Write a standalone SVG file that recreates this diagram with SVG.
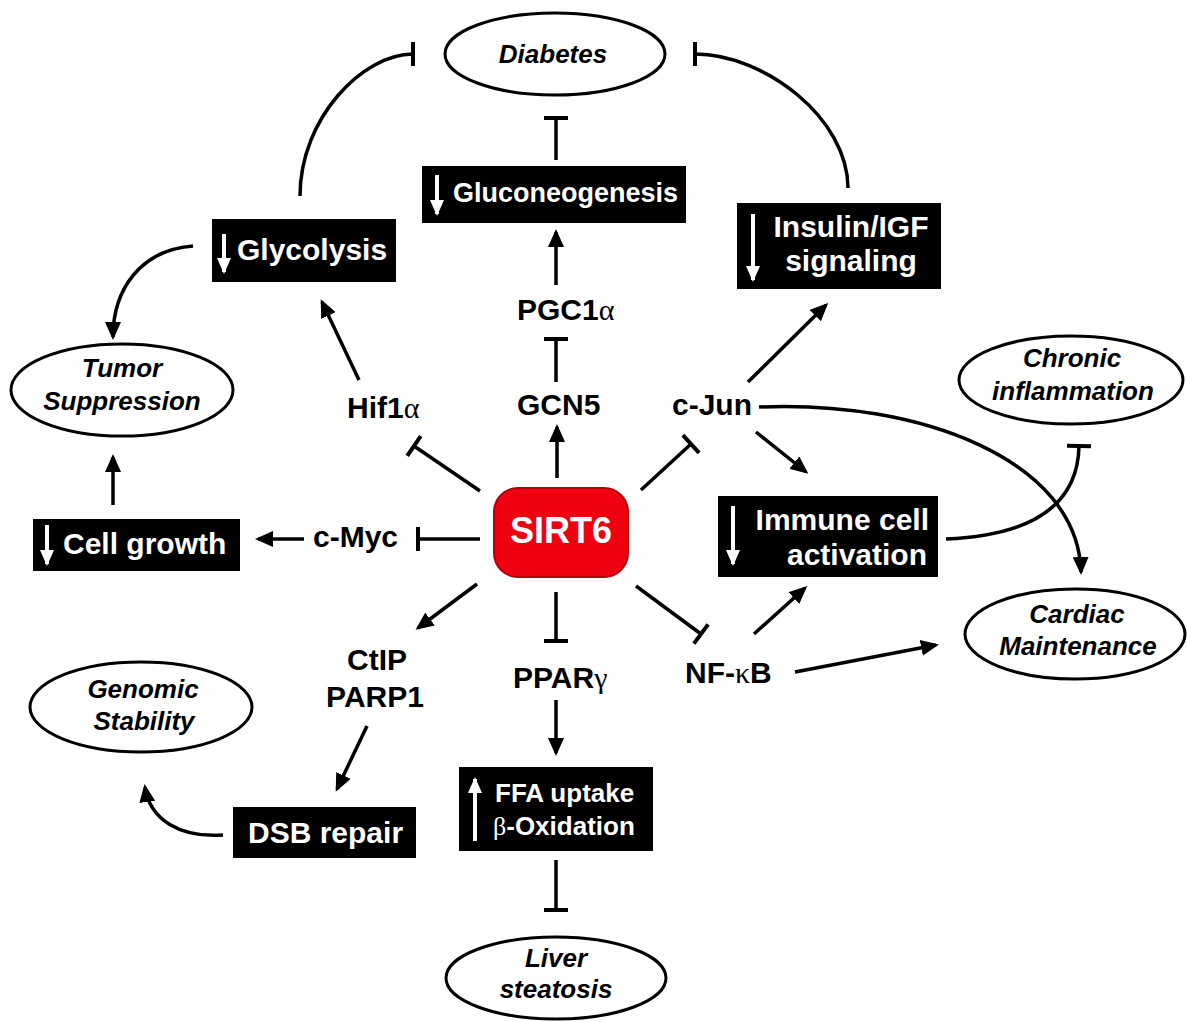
<svg xmlns="http://www.w3.org/2000/svg" width="1188" height="1022" viewBox="0 0 1188 1022">
<style>
.lbl{font-family:"Liberation Sans",Arial,sans-serif;font-weight:bold;font-size:30px;fill:#000}
.box{fill:#000}
.bt{font-family:"Liberation Sans",Arial,sans-serif;font-weight:bold;font-size:30px;fill:#fff}
.ell{fill:#fff;stroke:#000;stroke-width:3}
.et{font-family:"Liberation Sans",Arial,sans-serif;font-weight:bold;font-style:italic;font-size:26px;fill:#000;text-anchor:middle}
.gk{font-family:"Liberation Serif","Times New Roman",serif;font-weight:normal}
.c{fill:none;stroke:#000;stroke-width:3.5}
.arr{marker-end:url(#ah)}
.inh{marker-end:url(#tb)}
.wa{stroke:#fff;stroke-width:4;fill:none;marker-end:url(#wh)}
</style>
<defs>
<marker id="ah" markerUnits="userSpaceOnUse" markerWidth="18" markerHeight="16" viewBox="0 0 18 16" refX="15" refY="8" orient="auto">
<path d="M0,0 L18,8 L0,16 z" fill="#000"/>
</marker>
<marker id="tb" markerUnits="userSpaceOnUse" markerWidth="6" markerHeight="28" viewBox="-3 -14 6 28" refX="0" refY="0" orient="auto">
<rect x="-2" y="-12" width="4" height="24" fill="#000"/>
</marker>
<marker id="wh" markerUnits="userSpaceOnUse" markerWidth="16" markerHeight="14" viewBox="0 0 16 14" refX="14" refY="7" orient="auto">
<path d="M0,0 L16,7 L0,14 z" fill="#fff"/>
</marker>
</defs>

<g id="connectors">
<path class="c inh" d="M300,196 C300,118 363,54 413,54"/>
<path class="c inh" d="M848,188 C848,118 764,54 695,54"/>
<path class="c inh" d="M556,160 L556,118"/>
<path class="c arr" d="M556,285 L556,232"/>
<path class="c inh" d="M556,382 L556,339"/>
<path class="c arr" d="M557,478 L557,427"/>
<path class="c inh" d="M480,491 L414,446"/>
<path class="c arr" d="M359,380 L322,302"/>
<path class="c arr" d="M193,246 C140,250 113,290 113,337"/>
<path class="c inh" d="M480,539 L418,539"/>
<path class="c arr" d="M304,539 L258,539"/>
<path class="c arr" d="M113,505 L113,457"/>
<path class="c arr" d="M477,584 L418,628"/>
<path class="c arr" d="M367,726 L337,789"/>
<path class="c arr" d="M223,835 C180,838 150,820 145,787"/>
<path class="c inh" d="M556,592 L556,641"/>
<path class="c arr" d="M556,700 L556,753"/>
<path class="c inh" d="M556,860 L556,910"/>
<path class="c inh" d="M641,490 L691,444"/>
<path class="c arr" d="M748,382 L826,305"/>
<path class="c arr" d="M756,432 L806,472"/>
<path class="c arr" d="M759,407 C920,400 1078,460 1081,572"/>
<path class="c inh" d="M946,539 C1040,535 1078,500 1079,446"/>
<path class="c inh" d="M636,586 L701,634"/>
<path class="c arr" d="M754,634 L805,588"/>
<path class="c arr" d="M795,672 L936,645"/>
</g>

<g id="diabetes"><ellipse class="ell" cx="555" cy="54" rx="110" ry="41"/><text class="et" x="553" y="63">Diabetes</text></g>
<g id="tumor"><ellipse class="ell" cx="122" cy="390" rx="111" ry="46"/><text class="et" x="122" y="377">Tumor</text><text class="et" x="122" y="410">Suppression</text></g>
<g id="chronic"><ellipse class="ell" cx="1071" cy="380" rx="112" ry="44"/><text class="et" x="1072" y="367">Chronic</text><text class="et" x="1073" y="400">inflammation</text></g>
<g id="cardiac"><ellipse class="ell" cx="1075" cy="634" rx="110" ry="45"/><text class="et" x="1077" y="623">Cardiac</text><text class="et" x="1078" y="655">Maintenance</text></g>
<g id="genomic"><ellipse class="ell" cx="141" cy="707" rx="111" ry="45"/><text class="et" x="143" y="698">Genomic</text><text class="et" x="144" y="730">Stability</text></g>
<g id="liver"><ellipse class="ell" cx="556" cy="978" rx="110" ry="41"/><text class="et" x="556" y="967">Liver</text><text class="et" x="556" y="998">steatosis</text></g>

<g id="glycolysis"><rect class="box" x="212" y="219" width="184" height="63"/><path class="wa" d="M224,234 L224,272"/><text class="bt" x="237" y="260">Glycolysis</text></g>
<g id="gluconeogenesis"><rect class="box" x="422" y="166" width="264" height="57"/><path class="wa" d="M437,175 L437,214"/><text class="bt" x="453" y="202" style="font-size:27px">Gluconeogenesis</text></g>
<g id="insulin"><rect class="box" x="737" y="203" width="204" height="86"/><path class="wa" d="M753,214 L753,280"/><text class="bt" x="851" y="237" text-anchor="middle">Insulin/IGF</text><text class="bt" x="851" y="271" text-anchor="middle">signaling</text></g>
<g id="cellgrowth"><rect class="box" x="33" y="519" width="207" height="52"/><path class="wa" d="M47,525 L47,564"/><text class="bt" x="63" y="554">Cell growth</text></g>
<g id="immune"><rect class="box" x="718" y="496" width="220" height="81"/><path class="wa" d="M733,506 L733,564"/><text class="bt" x="929" y="530" text-anchor="end">Immune cell</text><text class="bt" x="927" y="565" text-anchor="end">activation</text></g>
<g id="dsb"><rect class="box" x="233" y="807" width="183" height="51"/><text class="bt" x="248" y="843">DSB repair</text></g>
<g id="ffa"><rect class="box" x="459" y="767" width="194" height="84"/><path class="wa" d="M475,841 L475,779"/><text class="bt" x="495" y="802" style="font-size:26px">FFA uptake</text><text class="bt" x="493" y="835" style="font-size:26px"><tspan class="gk">β</tspan>-Oxidation</text></g>

<g id="sirt6"><rect x="494" y="488" width="134" height="89" rx="24" fill="#ee0011" stroke="#b5000d" stroke-width="2"/><text x="561" y="543" text-anchor="middle" style="font-family:'Liberation Sans',Arial,sans-serif;font-weight:bold;font-size:36px;fill:#fff">SIRT6</text></g>

<g id="hif1a"><text class="lbl" x="347" y="418">Hif1<tspan class="gk">α</tspan></text></g>
<g id="gcn5"><text class="lbl" x="517" y="415">GCN5</text></g>
<g id="pgc1a"><text class="lbl" x="517" y="320">PGC1<tspan class="gk">α</tspan></text></g>
<g id="cmyc"><text class="lbl" x="313" y="547">c-Myc</text></g>
<g id="cjun"><text class="lbl" x="672" y="415">c-Jun</text></g>
<g id="ctip"><text class="lbl" x="377" y="670" text-anchor="middle">CtIP</text><text class="lbl" x="375" y="707" text-anchor="middle">PARP1</text></g>
<g id="ppar"><text class="lbl" x="513" y="688">PPAR<tspan class="gk">γ</tspan></text></g>
<g id="nfkb"><text class="lbl" x="685" y="683">NF-<tspan class="gk">κ</tspan>B</text></g>
</svg>
